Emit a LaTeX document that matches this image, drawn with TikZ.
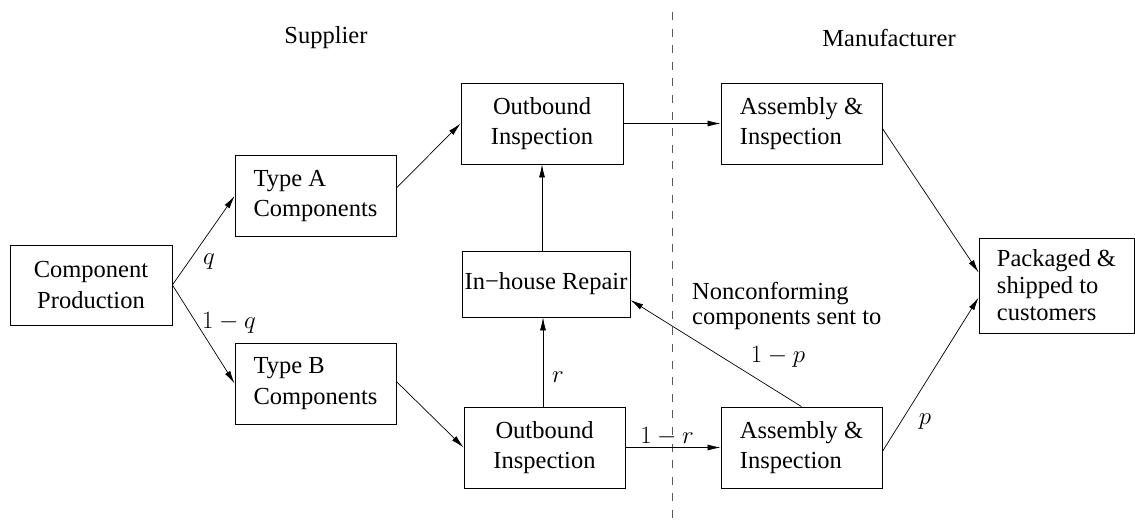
\documentclass[tikz,border=0pt]{standalone}
\usepackage[no-math]{fontspec}
\setmainfont{Liberation Serif}
\usetikzlibrary{arrows.meta}
\begin{document}
\begin{tikzpicture}[x=1pt,y=-1pt,
  every node/.style={font=\fontsize{24.5}{30.5}\selectfont},
  box/.style={draw, line width=0.8pt, inner sep=0pt, minimum width=161pt, minimum height=81pt},
  lbl/.style={inner sep=0pt},
  flow/.style={line width=0.7pt, -{Latex[length=13pt,width=6pt]}}]
\useasboundingbox (0,0) rectangle (1135,526);

% supplier / manufacturer divide
\draw[gray!70!black, line width=0.9pt, dash pattern=on 8pt off 8.6pt] (672,12) -- (672,526);
\node[lbl] (sup) at (326,38) {Supplier};
\node[lbl] (man) at (889,38) {Manufacturer};

% process boxes
\node[box, minimum width=162pt, minimum height=80pt, align=center] (cp) at (91,285) {Component\\Production};
\node[box, align=left] (ta) at (315.5,196) {Type A\\Components};
\node[box, align=left] (tb) at (315.5,383.5) {Type B\\Components};
\node[box, minimum width=162pt, align=center] (ot) at (542,123.5) {Outbound\\Inspection};
\node[box, align=left] (at) at (801.5,123.5) {Assembly \&\\Inspection};
\node[box, minimum width=168pt, minimum height=66pt] (rep) at (546,284) {In−house Repair};
\node[box, align=center] (ob) at (544.5,447.5) {Outbound\\Inspection};
\node[box, align=left] (ab) at (801.5,447.5) {Assembly \&\\Inspection};
\node[box, minimum width=155pt, minimum height=95pt, align=left,
      font=\fontsize{24.5}{27}\selectfont] (pk) at (1056.5,285.5) {Packaged \&\\shipped to\\customers};

% flows
\draw[flow] (cp.east) -- (ta.west);
\draw[flow] (cp.east) -- (tb.west);
\draw[flow] ([yshift=8pt]ta.east) -- (ot.west);
\draw[flow] ([yshift=2pt]tb.east) -- (ob.west);
\draw[flow] (ot.east) -- (at.west);
\draw[flow] (ot.south |- rep.north) -- (ot.south);
\draw[flow] ([xshift=-1.5pt]ob.north) -- ([xshift=-1.5pt]ob.north |- rep.south);
\draw[flow] (ob.east) -- (ab.west);
\draw[flow] (ab.north) -- ([yshift=-16pt]rep.east);
\draw[flow] ([yshift=-5pt]at.east) -- ([yshift=13pt]pk.west);
\draw[flow] ([yshift=-4pt]ab.east) -- ([yshift=-12pt]pk.west);

% branch probabilities
\node[lbl] (lq) at (209,262) {$q$};
\node[lbl] (lnq) at (229,323) {$1-q$};
\node[lbl] (lr) at (558,377) {$r$};
\node[lbl] (lnr) at (667,437) {$1-r$};
\node[lbl] (lnp) at (778,357) {$1-p$};
\node[lbl] (lp) at (925,422) {$p$};
\node[lbl, anchor=west, align=left, font=\fontsize{24.5}{25.5}\selectfont] (nc) at (692,306) {Nonconforming\\components sent to};
\end{tikzpicture}
\end{document}
